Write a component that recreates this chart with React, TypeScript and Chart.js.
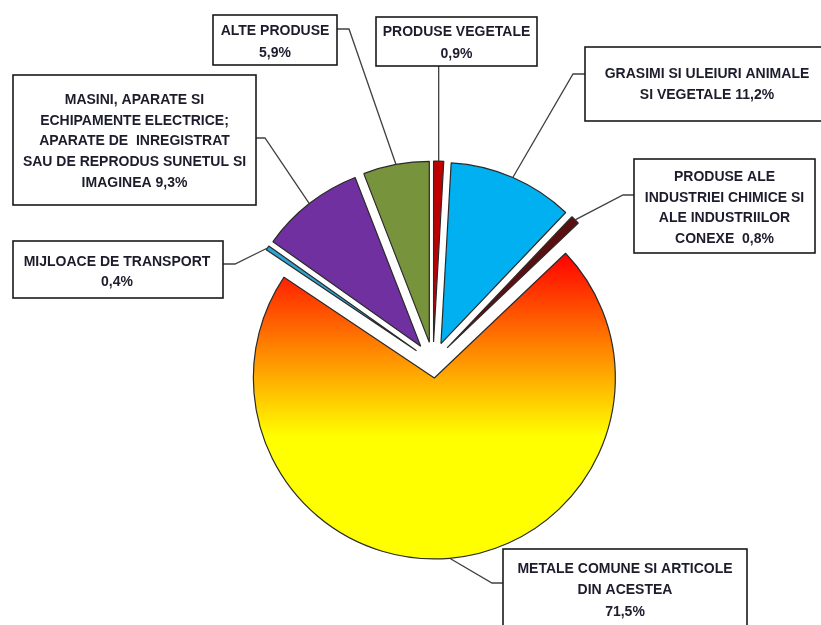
import { useEffect, useRef } from "react";
import { Chart, ArcElement, PieController } from "chart.js";

Chart.register(ArcElement, PieController);

// ---------- data ----------
const categories = [
  "PRODUSE VEGETALE",
  "GRASIMI SI ULEIURI ANIMALE SI VEGETALE",
  "PRODUSE ALE INDUSTRIEI CHIMICE SI ALE INDUSTRIILOR CONEXE",
  "METALE COMUNE SI ARTICOLE DIN ACESTEA",
  "MIJLOACE DE TRANSPORT",
  "MASINI, APARATE SI ECHIPAMENTE ELECTRICE; APARATE DE INREGISTRAT SAU DE REPRODUS SUNETUL SI IMAGINEA",
  "ALTE PRODUSE",
];
const shares = [0.9, 11.2, 0.8, 71.5, 0.4, 9.3, 5.9];
// label text lines; {v} is replaced by the formatted share
const labelLines = [
  ["PRODUSE VEGETALE", "{v}"],
  ["GRASIMI SI ULEIURI ANIMALE", "SI VEGETALE {v}"],
  ["PRODUSE ALE", "INDUSTRIEI CHIMICE SI", "ALE INDUSTRIILOR", "CONEXE  {v}"],
  ["METALE COMUNE SI ARTICOLE", "DIN ACESTEA", "{v}"],
  ["MIJLOACE DE TRANSPORT", "{v}"],
  ["MASINI, APARATE SI", "ECHIPAMENTE ELECTRICE;", "APARATE DE  INREGISTRAT", "SAU DE REPRODUS SUNETUL SI", "IMAGINEA {v}"],
  ["ALTE PRODUSE", "{v}"],
];

// ---------- styles / layout ----------
const sliceColors = ["#C00000", "#00B0F0", "#5A1010", "GRADIENT", "#2EA3D2", "#7030A0", "#77933C"];
const sliceExplode = [20, 20, 20, 16, 20, 20, 20]; // px each slice is pulled out
const RADIUS = 181;

type Link = { side: "left" | "right" | "bottom"; y?: number; ex?: number };
type LabelLayout = { box: [number, number, number, number]; tx: number; ty: number; lh: number; link: Link };
const labelLayout: LabelLayout[] = [
  { box: [376, 17, 161, 49], tx: 456.5, ty: 32, lh: 22, link: { side: "bottom" } },
  { box: [585, 47, 244, 74], tx: 707, ty: 74, lh: 21, link: { side: "left", y: 74, ex: 573 } },
  { box: [634, 159, 181, 94], tx: 724.5, ty: 177, lh: 20.7, link: { side: "left", y: 195, ex: 623 } },
  { box: [503, 549, 244, 90], tx: 625, ty: 569, lh: 21.5, link: { side: "left", y: 583, ex: 492 } },
  { box: [13, 241, 210, 57], tx: 117, ty: 262, lh: 20, link: { side: "right", y: 264, ex: 235 } },
  { box: [13, 75, 243, 130], tx: 134.5, ty: 100, lh: 20.8, link: { side: "right", y: 138, ex: 265 } },
  { box: [213, 15, 124, 50], tx: 275, ty: 31, lh: 22, link: { side: "right", y: 29, ex: 349 } },
];

const fmt = (v: number) => v.toFixed(1).replace(".", ",") + "%";

// pull each slice out along its mid-angle (keeps full angular width and radius)
const explodePlugin = {
  id: "explode",
  afterDatasetUpdate(_chart: any, args: any) {
    args.meta.data.forEach((el: any, i: number) => {
      const half = (el.startAngle + el.endAngle) / 2;
      el.x += Math.cos(half) * sliceExplode[i];
      el.y += Math.sin(half) * sliceExplode[i];
    });
  },
};

const labelsPlugin = {
  id: "boxLabels",
  afterDraw(chart: any) {
    const ctx: CanvasRenderingContext2D = chart.ctx;
    const meta = chart.getDatasetMeta(0);
    ctx.save();
    ctx.strokeStyle = "#404040";
    ctx.lineWidth = 1.3;
    meta.data.forEach((el: any, i: number) => {
      const L = labelLayout[i];
      const half = (el.startAngle + el.endAngle) / 2;
      const ax = el.x + Math.cos(half) * el.outerRadius;
      const ay = el.y + Math.sin(half) * el.outerRadius;
      const [bx, by, bw, bh] = L.box;
      ctx.beginPath();
      ctx.moveTo(ax, ay);
      if (L.link.side === "bottom") {
        ctx.lineTo(ax, by + bh);
      } else {
        const edge = L.link.side === "left" ? bx : bx + bw;
        ctx.lineTo(L.link.ex!, L.link.y!);
        ctx.lineTo(edge, L.link.y!);
      }
      ctx.stroke();
    });
    labelLayout.forEach((L, i) => {
      const [bx, by, bw, bh] = L.box;
      ctx.fillStyle = "#ffffff";
      ctx.fillRect(bx, by, bw, bh);
      ctx.strokeStyle = "#1a1a1a";
      ctx.lineWidth = 1.6;
      ctx.strokeRect(bx, by, bw, bh);
      ctx.fillStyle = "#1c1c2c";
      ctx.font = 'bold 14px "Liberation Sans", Arial, sans-serif';
      ctx.textAlign = "center";
      ctx.textBaseline = "middle";
      labelLines[i].forEach((line, k) => {
        ctx.fillText(line.replace("{v}", fmt(shares[i])), L.tx, L.ty + k * L.lh);
      });
    });
    ctx.restore();
  },
};

export default function App() {
  const ref = useRef<HTMLCanvasElement | null>(null);
  useEffect(() => {
    document.body.style.margin = "0";
    const canvas = ref.current!;
    const chart = new Chart(canvas, {
      type: "pie",
      data: {
        labels: categories,
        datasets: [
          {
            data: shares,
            radius: RADIUS,
            borderWidth: 1.2,
            borderColor: "#2a2a2a",
            backgroundColor: (c: any) => {
              const col = sliceColors[c.dataIndex];
              if (col !== "GRADIENT") return col;
              const area = c.chart.chartArea;
              if (!area) return "#FF8000";
              const cy = (area.top + area.bottom) / 2;
              const g = c.chart.ctx.createLinearGradient(0, cy - 0.6 * RADIUS, 0, cy + RADIUS + sliceExplode[3]);
              g.addColorStop(0, "#FF0000");
              g.addColorStop(0.6, "#FFFF00");
              g.addColorStop(1, "#FFFF00");
              return g;
            },
          } as any,
        ],
      },
      options: {
        responsive: false,
        animation: false,
        events: [],
        layout: { padding: { left: 45, top: 99, right: 0, bottom: 0 } },
        plugins: { legend: { display: false }, tooltip: { enabled: false } } as any,
      },
      plugins: [explodePlugin, labelsPlugin],
    });
    return () => chart.destroy();
  }, []);
  return (
    <div style={{ width: 821, height: 625, background: "#fff" }}>
      <canvas ref={ref} width={821} height={625} style={{ display: "block" }} />
    </div>
  );
}
